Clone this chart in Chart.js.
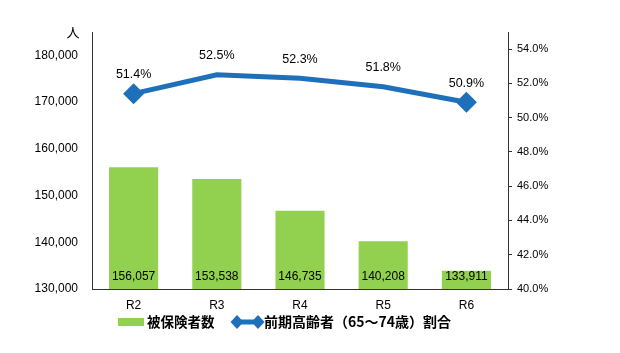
<!DOCTYPE html>
<html>
<head>
<meta charset="utf-8">
<script src="https://cdn.jsdelivr.net/npm/chart.js@4"></script>
<style>
  html, body { margin: 0; padding: 0; background: #fff; }
  #wrap { width: 620px; height: 353px; }
</style>
</head>
<body>
<div id="wrap"><canvas id="myChart" width="620" height="353"></canvas></div>
<script>
// data
var years = ['R2', 'R3', 'R4', 'R5', 'R6'];
var insured = [156057, 153538, 146735, 140208, 133911]; // 被保険者数
var elderRate = [51.4, 52.5, 52.3, 51.8, 50.9]; // 前期高齢者割合 (%)
var barLabel = '被保険者数';
var lineLabel = '前期高齢者（65～74歳）割合';

var GREEN = '#92D050';
var BLUE = '#1F70BA';
var FONT = '"Liberation Sans", Arial, sans-serif';
var JFONT = '"Noto Sans CJK JP", sans-serif';

// only the two end points carry a diamond marker
var markerSize = elderRate.map(function (v, i) {
    return (i == 0 || i == elderRate.length - 1) ? 7 : 0;
});

// draws the value labels, the unit and the legend
var labelPlugin = {
    id: 'labels',
    afterDatasetsDraw: function (chart) {
        var ctx = chart.ctx;
        ctx.save();
        ctx.fillStyle = '#000';
        ctx.font = '12px ' + FONT;
        ctx.textAlign = 'center';
        ctx.textBaseline = 'middle';
        // bar labels at the foot of each bar
        chart.getDatasetMeta(1).data.forEach(function (bar, i) {
            ctx.fillText(insured[i].toLocaleString('en-US'), bar.x, chart.chartArea.bottom - 12);
        });
        // line labels over the points
        ctx.font = '12.5px ' + FONT;
        chart.getDatasetMeta(0).data.forEach(function (pt, i) {
            ctx.fillText(elderRate[i].toFixed(1) + '%', pt.x, pt.y - 19);
        });
        // unit
        ctx.font = '13px ' + JFONT;
        ctx.fillText('人', 73, 32);

        // legend
        var ly = 322;
        ctx.fillStyle = GREEN;
        ctx.fillRect(118, ly - 4, 26, 8);
        ctx.fillStyle = '#000';
        ctx.font = 'bold 13.5px ' + JFONT;
        ctx.textAlign = 'left';
        ctx.fillText(barLabel, 147, ly);
        ctx.strokeStyle = BLUE;
        ctx.lineWidth = 5;
        ctx.beginPath();
        ctx.moveTo(237, ly);
        ctx.lineTo(258, ly);
        ctx.stroke();
        ctx.fillStyle = BLUE;
        [237, 258].forEach(function (cx) {
            ctx.beginPath();
            ctx.moveTo(cx, ly - 7);
            ctx.lineTo(cx + 6.5, ly);
            ctx.lineTo(cx, ly + 7);
            ctx.lineTo(cx - 6.5, ly);
            ctx.closePath();
            ctx.fill();
        });
        ctx.fillStyle = '#000';
        ctx.font = 'bold 14px ' + JFONT;
        ctx.fillText(lineLabel, 264, ly);
        ctx.restore();
    }
};

const data = {
    labels: years,
    datasets: [{
        type: 'line',
        label: lineLabel,
        data: elderRate,
        yAxisID: 'y1',
        borderColor: BLUE,
        backgroundColor: BLUE,
        borderWidth: 5,
        pointStyle: 'rectRot',
        pointRadius: markerSize,
        pointHoverRadius: markerSize,
        tension: 0,
        order: 0
    }, {
        type: 'bar',
        label: barLabel,
        data: insured,
        yAxisID: 'y',
        backgroundColor: GREEN,
        categoryPercentage: 0.59,
        barPercentage: 1,
        order: 1
    }]
};

const config = {
    data,
    options: {
        responsive: false,
        animation: false,
        layout: { padding: { top: 32, left: 0, right: 0, bottom: 0 } },
        plugins: { legend: { display: false }, tooltip: { enabled: false } },
        scales: {
            x: {
                grid: { display: false, drawTicks: false },
                border: { color: '#333', width: 1 },
                ticks: { color: '#000', font: { family: FONT, size: 12 }, padding: 9 },
                afterFit: function (s) { s.height = 64; }
            },
            y: {
                position: 'left',
                min: 130000,
                max: 185000,
                afterBuildTicks: function (s) {
                    s.ticks = [130000, 140000, 150000, 160000, 170000, 180000].map(function (v) { return { value: v }; });
                },
                grid: { display: false, drawTicks: false },
                border: { color: '#333', width: 1 },
                ticks: {
                    color: '#000',
                    font: { family: FONT, size: 12 },
                    padding: 14,
                    callback: function (v) { return v.toLocaleString('en-US'); }
                },
                afterFit: function (s) { s.width = 92; }
            },
            y1: {
                position: 'right',
                min: 40,
                max: 55,
                afterBuildTicks: function (s) {
                    s.ticks = [40, 42, 44, 46, 48, 50, 52, 54].map(function (v) { return { value: v }; });
                },
                grid: { drawOnChartArea: false, tickLength: 4, color: '#333' },
                border: { color: '#333', width: 1 },
                ticks: {
                    color: '#000',
                    font: { family: FONT, size: 11 },
                    padding: 5,
                    callback: function (v) { return v.toFixed(1) + '%'; }
                },
                afterFit: function (s) { s.width = 112; }
            }
        }
    },
    plugins: [labelPlugin]
};

var myChart = new Chart(document.getElementById('myChart'), config);
</script>
</body>
</html>
